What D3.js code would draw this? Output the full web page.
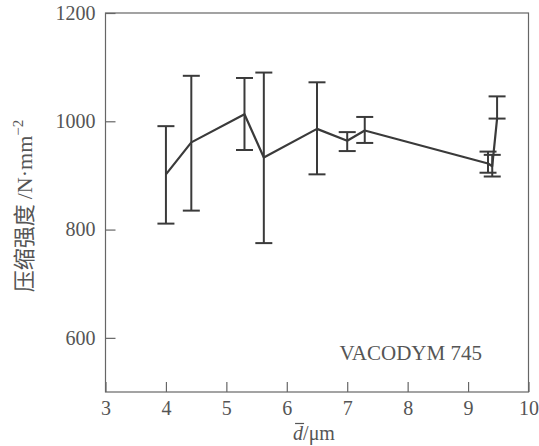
<!DOCTYPE html>
<html>
<head>
<meta charset="utf-8">
<script src="https://cdn.jsdelivr.net/npm/d3@7"></script>
<style>
  body { margin: 0; background: #fff; }
  svg { display: block; }
</style>
</head>
<body>
<div id="chart"></div>
<script>
// mean grain size (um) and compressive strength (N/mm^2)
const grainSize = [4.0, 4.42, 5.3, 5.62, 6.5, 7.0, 7.29, 9.33, 9.4, 9.48];
const strength = [902, 961, 1013, 933, 986, 964, 983, 922, 917, 1005];
const errLow = [811, 835, 947, 775, 902, 945, 960, 905, 898, 1005];
const errHigh = [991, 1084, 1080, 1090, 1072, 980, 1008, 944, 938, 1046];
const xTicks = [3, 4, 5, 6, 7, 8, 9, 10];
const yTicks = [600, 800, 1000, 1200];

const W = 539, H = 446;
const margin = { top: 13, right: 10.5, bottom: 54, left: 105.5 };
const serif = "'Liberation Serif', 'Times New Roman', serif";
const axisColor = "#666";
const lineColor = "#3a3a3a";

const svg = d3.select("#chart").append("svg")
  .attr("width", W).attr("height", H);

const x = d3.scaleLinear().domain([3, 10]).range([margin.left, W - margin.right]);
const y = d3.scaleLinear().domain([500, 1200]).range([H - margin.bottom, margin.top]);

// frame
svg.append("rect")
  .attr("x", x(3)).attr("y", y(1200))
  .attr("width", x(10) - x(3)).attr("height", y(500) - y(1200))
  .attr("fill", "none").attr("stroke", axisColor).attr("stroke-width", 1.2);

// axes (ticks pointing inward)
const xAxis = svg.append("g")
  .attr("transform", `translate(0,${y(500)})`)
  .call(d3.axisBottom(x).tickValues(xTicks).tickFormat(d3.format("d"))
    .tickSizeInner(-10).tickSizeOuter(0).tickPadding(9));
const yAxis = svg.append("g")
  .attr("transform", `translate(${x(3)},0)`)
  .call(d3.axisLeft(y).tickValues(yTicks).tickFormat(d3.format("d"))
    .tickSizeInner(-10).tickSizeOuter(0).tickPadding(10));

[xAxis, yAxis].forEach((g) => {
  g.select(".domain").remove();
  g.selectAll("line").attr("stroke", axisColor).attr("stroke-width", 1.2);
  g.selectAll("text")
    .attr("fill", "#555")
    .style("font-family", serif)
    .style("font-size", "20px");
});
xAxis.selectAll("text").attr("dy", "0.72em");

// error bars
const pts = grainSize.map((d, i) => ({ x: d, v: strength[i], lo: errLow[i], hi: errHigh[i] }));
const cap = 8.5;
const bars = svg.append("g")
  .attr("stroke", lineColor).attr("stroke-width", 2).attr("fill", "none");
bars.selectAll(".stem").data(pts).join("line")
  .attr("class", "stem")
  .attr("x1", (d) => x(d.x)).attr("x2", (d) => x(d.x))
  .attr("y1", (d) => y(d.lo)).attr("y2", (d) => y(d.hi));
bars.selectAll(".cap-hi").data(pts).join("line")
  .attr("class", "cap-hi")
  .attr("x1", (d) => x(d.x) - cap).attr("x2", (d) => x(d.x) + cap)
  .attr("y1", (d) => y(d.hi)).attr("y2", (d) => y(d.hi));
bars.selectAll(".cap-lo").data(pts).join("line")
  .attr("class", "cap-lo")
  .attr("x1", (d) => x(d.x) - cap).attr("x2", (d) => x(d.x) + cap)
  .attr("y1", (d) => y(d.lo)).attr("y2", (d) => y(d.lo));

// mean line
svg.append("path")
  .datum(pts)
  .attr("fill", "none")
  .attr("stroke", lineColor)
  .attr("stroke-width", 2.2)
  .attr("stroke-linejoin", "round")
  .attr("d", d3.line().x((d) => x(d.x)).y((d) => y(d.v)));

// legend label
svg.append("text")
  .attr("x", x(8.05)).attr("y", y(560))
  .attr("text-anchor", "middle")
  .attr("fill", "#555")
  .style("font-family", serif)
  .style("font-size", "21px")
  .text("VACODYM 745");

// x title, with a bar over the italic d
const xt = svg.append("text")
  .attr("x", 314).attr("y", 440)
  .attr("text-anchor", "middle")
  .attr("fill", "#555")
  .style("font-family", serif)
  .style("font-size", "20px");
xt.append("tspan").style("font-style", "italic").text("d");
xt.append("tspan").text("/μm");
const dBox = xt.node().getExtentOfChar(0);
svg.append("line")
  .attr("x1", dBox.x + 2).attr("x2", dBox.x + dBox.width + 1)
  .attr("y1", dBox.y + 1.5).attr("y2", dBox.y + 1.5)
  .attr("stroke", "#555").attr("stroke-width", 1.2);

// y title
const yt = svg.append("text")
  .attr("transform", "rotate(-90)")
  .attr("x", -206).attr("y", 32)
  .attr("text-anchor", "middle")
  .attr("fill", "#555")
  .style("font-size", "22px");
yt.append("tspan").style("font-family", "'Noto Sans CJK SC', sans-serif").text("压缩强度 ");
yt.append("tspan").style("font-family", serif).text("/N·mm");
yt.append("tspan").style("font-family", serif).style("font-size", "15px").attr("dy", "-9").text("−2");
</script>
</body>
</html>
